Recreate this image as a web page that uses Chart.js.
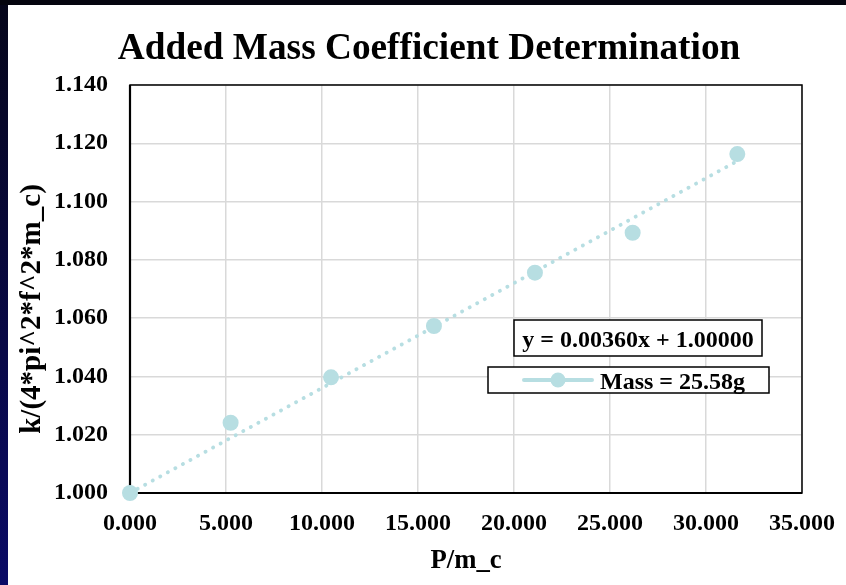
<!DOCTYPE html>
<html>
<head>
<meta charset="utf-8">
<script src="https://cdn.jsdelivr.net/npm/chart.js@4.4.1/dist/chart.umd.min.js"></script>
<style>
  html, body { margin: 0; padding: 0; overflow: hidden; background: #fff; }
  #wrap { position: relative; width: 846px; height: 585px; }
</style>
</head>
<body>
<div id="wrap"><canvas id="c"></canvas></div>
<script>
// ---- data ----
const xValues = [0.000, 5.24, 10.47, 15.83, 21.09, 26.18, 31.63];
const yValues = [1.000, 1.0241, 1.0397, 1.0573, 1.0756, 1.0893, 1.1163];
const trendX = [0.000, 31.63];
const trendY = [1.000, 1.1139];
const xTicks = [0, 5, 10, 15, 20, 25, 30, 35];
const yTicks = [1.00, 1.02, 1.04, 1.06, 1.08, 1.10, 1.12, 1.14];
const titleText = 'Added Mass Coefficient Determination';
const xTitle = 'P/m_c';
const yTitle = 'k/(4*pi^2*f^2*m_c)';
const equationText = 'y = 0.00360x + 1.00000';
const seriesLabel = 'Mass = 25.58g';

const SERIF = '"Liberation Serif", "Times New Roman", Times, serif';
const TEAL = '#b7dee2';

const pts = xValues.map((x, i) => ({ x, y: yValues[i] }));
const trend = trendX.map((x, i) => ({ x, y: trendY[i] }));

const bgPlugin = {
  id: 'bg',
  beforeDraw(chart) {
    const ctx = chart.ctx;
    ctx.save();
    ctx.fillStyle = '#ffffff';
    ctx.fillRect(0, 0, chart.width, chart.height);
    const g = ctx.createLinearGradient(0, 0, 0, chart.height);
    g.addColorStop(0, '#06061a');
    g.addColorStop(1, '#0b0b66');
    ctx.fillStyle = g;
    ctx.fillRect(0, 0, 8, chart.height);
    ctx.fillStyle = '#05050f';
    ctx.fillRect(0, 0, chart.width, 5);
    ctx.restore();
  },
  beforeDatasetsDraw(chart) {
    const ctx = chart.ctx;
    const a = chart.chartArea;
    ctx.save();
    ctx.strokeStyle = '#000';
    ctx.lineWidth = 1.5;
    ctx.strokeRect(a.left, a.top, a.right - a.left, a.bottom - a.top);
    ctx.lineWidth = 2.2;
    ctx.beginPath();
    ctx.moveTo(a.left, a.top);
    ctx.lineTo(a.left, a.bottom);
    ctx.lineTo(a.right, a.bottom);
    ctx.stroke();
    ctx.restore();
  }
};

const textPlugin = {
  id: 'textBoxes',
  afterDraw(chart) {
    const ctx = chart.ctx;
    ctx.save();
    // title
    ctx.fillStyle = '#000';
    ctx.font = 'bold 37.3px ' + SERIF;
    ctx.textAlign = 'center';
    ctx.textBaseline = 'alphabetic';
    ctx.fillText(titleText, 429, 58.5);

    // y axis title (rotated)
    ctx.save();
    ctx.translate(40, 309);
    ctx.rotate(-Math.PI / 2);
    ctx.font = 'bold 29px ' + SERIF;
    ctx.textAlign = 'center';
    ctx.fillText(yTitle, 0, 0);
    ctx.restore();

    // equation box
    ctx.strokeStyle = '#000';
    ctx.lineWidth = 1.5;
    ctx.fillStyle = '#fff';
    ctx.fillRect(514, 320, 248, 36);
    ctx.strokeRect(514, 320, 248, 36);
    ctx.fillStyle = '#000';
    ctx.font = 'bold 24px ' + SERIF;
    ctx.textAlign = 'center';
    ctx.fillText(equationText, 638, 347);

    // legend box
    ctx.fillStyle = '#fff';
    ctx.fillRect(488, 367, 281, 26);
    ctx.strokeRect(488, 367, 281, 26);
    ctx.strokeStyle = TEAL;
    ctx.lineWidth = 4;
    ctx.lineCap = 'round';
    ctx.beginPath();
    ctx.moveTo(524, 380);
    ctx.lineTo(592, 380);
    ctx.stroke();
    ctx.fillStyle = TEAL;
    ctx.beginPath();
    ctx.arc(558, 380, 7.5, 0, Math.PI * 2);
    ctx.fill();
    ctx.fillStyle = '#000';
    ctx.textAlign = 'left';
    ctx.fillText(seriesLabel, 600, 389);
    ctx.restore();
  }
};

new Chart(document.getElementById('c'), {
  type: 'scatter',
  data: {
    datasets: [
      {
        label: seriesLabel,
        data: pts,
        showLine: false,
        clip: false,
        pointRadius: 8,
        pointHoverRadius: 8,
        pointBackgroundColor: TEAL,
        pointBorderColor: TEAL,
        pointBorderWidth: 0,
        order: 0
      },
      {
        label: 'trend',
        data: trend,
        showLine: true,
        clip: false,
        pointRadius: 0,
        borderColor: TEAL,
        borderWidth: 3.8,
        borderDash: [0.2, 8.4],
        borderCapStyle: 'round',
        fill: false,
        order: 1
      }
    ]
  },
  options: {
    responsive: true,
    maintainAspectRatio: false,
    animation: false,
    events: [],
    layout: { padding: { left: 0, right: 44, top: 85, bottom: 0 } },
    plugins: {
      legend: { display: false },
      tooltip: { enabled: false },
      title: { display: false }
    },
    scales: {
      x: {
        type: 'linear',
        min: 0, max: 35,
        afterBuildTicks(s) { s.ticks = xTicks.map(v => ({ value: v })); },
        afterFit(s) { s.height = 92; s.paddingLeft = 0; s.paddingRight = 0; },
        grid: { color: '#d9d9d9', lineWidth: 1.5, drawTicks: false },
        border: { display: false },
        ticks: {
          color: '#000',
          padding: 16,
          maxRotation: 0,
          font: { family: SERIF, size: 24, weight: 'bold' },
          callback: v => Number(v).toFixed(3)
        },
        title: {
          display: true,
          text: xTitle,
          color: '#000',
          font: { family: SERIF, size: 26.7, weight: 'bold', lineHeight: 1.2 },
          padding: { top: 0, bottom: 8 }
        }
      },
      y: {
        type: 'linear',
        min: 1.0, max: 1.14,
        afterBuildTicks(s) { s.ticks = yTicks.map(v => ({ value: v })); },
        afterFit(s) { s.width = 130; s.paddingTop = 0; s.paddingBottom = 0; },
        grid: { color: '#d9d9d9', lineWidth: 1.5, drawTicks: false },
        border: { display: false },
        ticks: {
          color: '#000',
          padding: 22,
          font: { family: SERIF, size: 24, weight: 'bold' },
          callback: v => Number(v).toFixed(3)
        },
        title: { display: false }
      }
    }
  },
  plugins: [bgPlugin, textPlugin]
});
</script>
</body>
</html>
